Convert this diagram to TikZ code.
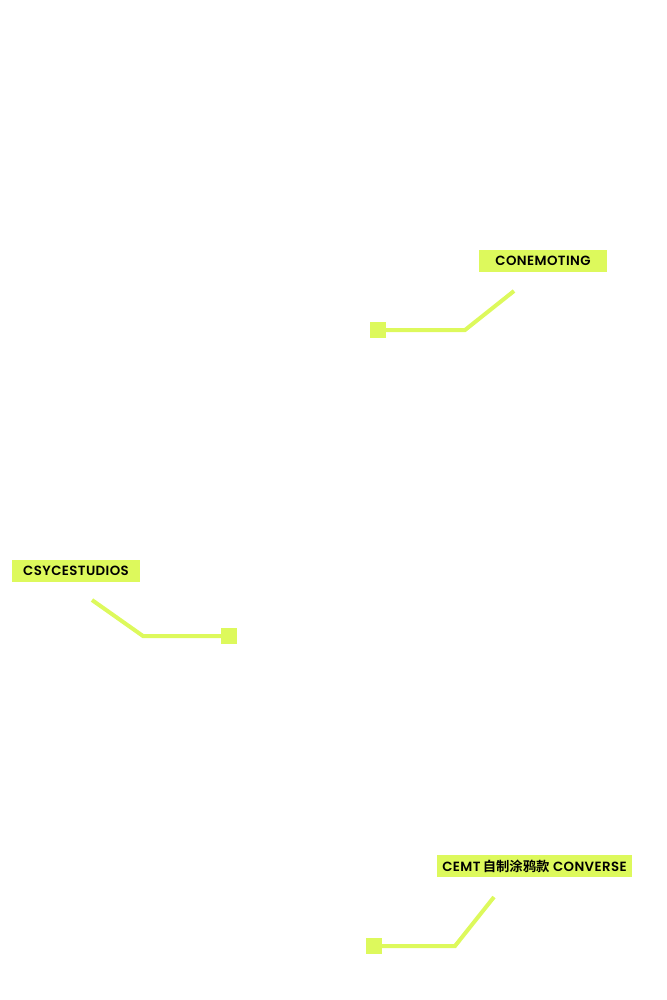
\documentclass[tikz,border=0pt]{standalone}
\usepackage{fontspec}
\setmainfont{Poppins}[UprightFont=* SemiBold, LetterSpace=3]
\newfontfamily\cjk{Noto Sans CJK SC}[UprightFont=* Bold]
\definecolor{lime}{RGB}{221,249,92}

\begin{document}
\begin{tikzpicture}[x=0.75pt, y=-0.75pt,
    tag/.style={fill=lime, text=black, inner sep=0pt, minimum height=16.5pt, font=\fontsize{10}{11}\selectfont},
    pin/.style={fill=lime, inner sep=0pt, minimum size=12pt},
    wire/.style={draw=lime, line width=3pt}]
\useasboundingbox (0,0) rectangle (667,1000);
% first label
\node[tag, minimum width=96pt] (conemoting) at (543,261) {CONEMOTING};
\coordinate (c1) at (514,291);
\coordinate (b1) at (465,330);
\node[pin] (sq1) at (378,330) {};
\draw[wire] (c1) -- (b1) -- (sq1.center);
% second label
\node[tag, minimum width=96pt] (csyce) at (76,571) {CSYCESTUDIOS};
\coordinate (c2) at (92,600);
\coordinate (b2) at (143,636);
\node[pin] (sq2) at (229,636) {};
\draw[wire] (c2) -- (b2) -- (sq2.center);
% third label
\node[tag, minimum width=146pt] (converse) at (534.5,866) {CEMT\,{\cjk 自制涂鸦款} CONVERSE};
\coordinate (c3) at (494,897);
\coordinate (b3) at (455,946);
\node[pin] (sq3) at (374,946) {};
\draw[wire] (c3) -- (b3) -- (sq3.center);
\end{tikzpicture}
\end{document}
